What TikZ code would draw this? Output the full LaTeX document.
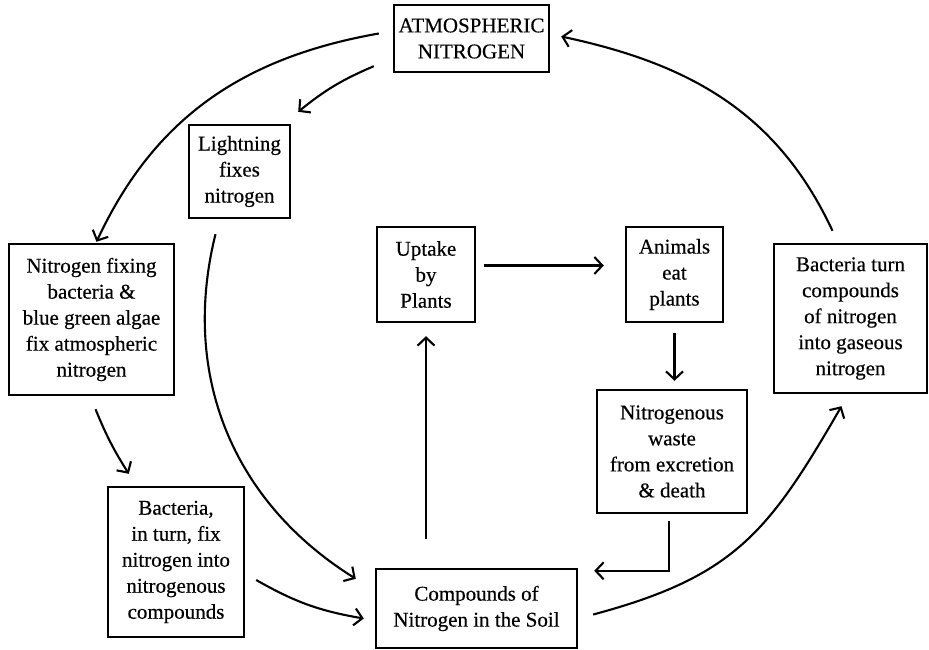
\documentclass[tikz,border=0pt]{standalone}
\usepackage{fontspec}
\setmainfont{Liberation Serif}[FakeBold=0.4]
\usetikzlibrary{arrows.meta}
\begin{document}
\begin{tikzpicture}[x=1pt,y=1pt,
    stage/.style={draw, line width=2.4pt, align=center, inner sep=1pt,
        font=\fontsize{21}{26}\selectfont},
    flow/.style={line width=2.1pt, -{Straight Barb[length=8pt,width=17pt]}}]
  \useasboundingbox (0,0) rectangle (929,-650);
  \node[stage, minimum width=155pt, minimum height=67pt] (atm) at (471.5,-38.5) {ATMOSPHERIC\\NITROGEN};
  \node[stage, minimum width=101pt, minimum height=93pt] (light) at (239.5,-171.5) {Lightning\\fixes\\nitrogen};
  \node[stage, minimum width=165pt, minimum height=151pt] (fixing) at (91.5,-319.5) {Nitrogen fixing\\bacteria \&\\blue green algae\\fix atmospheric\\nitrogen};
  \node[stage, minimum width=136pt, minimum height=150pt] (turn) at (176,-562) {Bacteria,\\in turn, fix\\nitrogen into\\nitrogenous\\compounds};
  \node[stage, minimum width=98pt, minimum height=95pt] (uptake) at (426,-274.5) {Uptake\\by\\Plants};
  \node[stage, minimum width=97pt, minimum height=95pt] (animals) at (674.5,-274.5) {Animals\\eat\\plants};
  \node[stage, minimum width=153pt, minimum height=149pt] (gas) at (850.5,-318.5) {Bacteria turn\\compounds\\of nitrogen\\into gaseous\\nitrogen};
  \node[stage, minimum width=150pt, minimum height=123pt] (waste) at (672,-451.5) {Nitrogenous\\waste\\from excretion\\\& death};
  \node[stage, minimum width=201pt, minimum height=79pt] (soil) at (476.5,-608.5) {Compounds of\\Nitrogen in the Soil};

  \draw[flow] ([xshift=-14pt,yshift=5pt]atm.west) to[out=190,in=65] ([xshift=5pt,yshift=1pt]fixing.north);
  \draw[flow] ([xshift=-19pt,yshift=7pt]atm.south west) to[bend right=8] ([xshift=7pt,yshift=12pt]light.north east);
  \draw[flow] ([xshift=-24pt,yshift=-15pt]light.south) to[out=256,in=148] ([xshift=-19pt,yshift=-11pt]soil.north west);
  \draw[flow] ([xshift=4pt,yshift=-13pt]fixing.south) to[bend right=5] ([xshift=22pt,yshift=12pt]turn.north west);
  \draw[flow] ([xshift=11pt,yshift=-18pt]turn.east) to[bend right=10] ([xshift=-11pt,yshift=-10pt]soil.west);
  \draw[flow, shorten <=29pt, shorten >=13pt] (uptake.south |- soil.north) -- (uptake.south);
  \draw[flow, shorten <=8pt, shorten >=21pt] ([yshift=9pt]uptake.east) -- ([yshift=9pt]animals.west);
  \draw[flow, shorten <=10pt, shorten >=8pt] (animals.south) -- (animals.south |- waste.north);
  \draw[flow, shorten <=7pt, shorten >=16pt] ([xshift=-3pt]waste.south) |- ([yshift=-3pt]soil.north east);
  \draw[flow] ([xshift=15pt,yshift=-6pt]soil.east) to[out=15,in=240,looseness=1.15] ([xshift=-9pt,yshift=-12pt]gas.south);
  \draw[flow] ([xshift=-18pt,yshift=12pt]gas.north) to[out=115,in=-12] ([xshift=11pt,yshift=2pt]atm.east);
\end{tikzpicture}
\end{document}
